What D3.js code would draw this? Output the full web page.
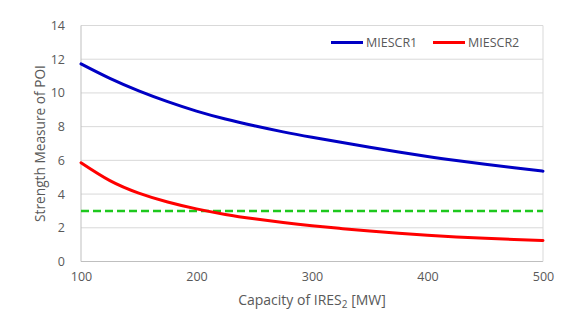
<!DOCTYPE html>
<html><head><meta charset="utf-8">
<script src="https://cdn.jsdelivr.net/npm/d3@7"></script>
<style>
html,body{margin:0;padding:0;background:#fff;}
text{font-family:"Open Sans","Liberation Sans",sans-serif;fill:#595959;}
</style></head>
<body><svg id="chart" width="584" height="328"></svg>
<script>
const capacity = [100,125,150,175,200,225,250,275,300,325,350,375,400,425,450,475,500];
const miescr1 = [11.72,10.86,10.12,9.48,8.92,8.45,8.05,7.69,7.37,7.07,6.78,6.50,6.23,5.99,5.77,5.56,5.36];
const miescr2 = [5.86,4.80,4.06,3.53,3.12,2.79,2.53,2.31,2.12,1.96,1.81,1.68,1.56,1.46,1.38,1.31,1.25];
const threshold = [3];
const xTicks = [100,200,300,400,500];
const yTicks = [0,2,4,6,8,10,12,14];
const seriesNames = ["MIESCR1","MIESCR2"];
const seriesColors = ["#0000c4","#ff0000"];

const svg = d3.select("#chart");
const W = 584, H = 328;
const m = {left:81, right:41, top:25.5, bottom:66.5};
const x = d3.scaleLinear().domain([100,500]).range([m.left, W-m.right]);
const y = d3.scaleLinear().domain([0,14]).range([H-m.bottom, m.top]);

// gridlines
svg.append("g").selectAll("line").data(yTicks).join("line")
  .attr("x1", x(100)).attr("x2", x(500))
  .attr("y1", d=>y(d)).attr("y2", d=>y(d))
  .attr("stroke", d=> d===0 ? "#bfbfbf" : "#d9d9d9").attr("stroke-width",1);
// plot border left/right
svg.append("line").attr("x1",x(100)).attr("x2",x(100)).attr("y1",y(0)).attr("y2",y(14)).attr("stroke","#bfbfbf");
svg.append("line").attr("x1",x(500)).attr("x2",x(500)).attr("y1",y(0)).attr("y2",y(14)).attr("stroke","#d9d9d9");

// axes labels via d3 axes
const yAxis = svg.append("g").attr("transform",`translate(${x(100)},0)`)
  .call(d3.axisLeft(y).tickValues(yTicks).tickSize(0).tickPadding(16));
yAxis.select(".domain").remove();
yAxis.selectAll("text").style("font-size","12.5px").attr("fill","#595959").attr("font-family",null);

const xAxis = svg.append("g").attr("transform",`translate(0,${y(0)})`)
  .call(d3.axisBottom(x).tickValues(xTicks).tickSize(0).tickPadding(11));
xAxis.select(".domain").remove();
xAxis.selectAll("text").style("font-size","12.5px").attr("fill","#595959").attr("font-family",null);

// axis titles
const xt = svg.append("text").attr("x",(x(100)+x(500))/2).attr("y",305)
  .attr("text-anchor","middle").style("font-size","14px");
xt.append("tspan").text("Capacity of IRES");
xt.append("tspan").text("2").attr("dy",3).style("font-size","10px");
xt.append("tspan").text(" [MW]").attr("dy",-3);

svg.append("text").attr("transform",`translate(45,${(y(0)+y(14))/2}) rotate(-90)`)
  .attr("text-anchor","middle").style("font-size","13.7px").text("Strength Measure of POI");

// threshold
svg.append("g").selectAll("line").data(threshold).join("line")
  .attr("x1",x(100)).attr("x2",x(500)).attr("y1",d=>y(d)).attr("y2",d=>y(d))
  .attr("stroke","#1ec81e").attr("stroke-width",2.5).attr("stroke-dasharray","8,4");

// series
const line = d3.line().x((d,i)=>x(capacity[i])).y(d=>y(d)).curve(d3.curveNatural);
[miescr1, miescr2].forEach((s,k)=>{
  svg.append("path").datum(s).attr("d",line).attr("fill","none")
    .attr("stroke",seriesColors[k]).attr("stroke-width",3).attr("stroke-linecap","round");
});

// legend
const legX = [331, 433];
seriesNames.forEach((n,k)=>{
  svg.append("line").attr("x1",legX[k]).attr("x2",legX[k]+32).attr("y1",42.5).attr("y2",42.5)
    .attr("stroke",seriesColors[k]).attr("stroke-width",3);
  svg.append("text").attr("x",legX[k]+35).attr("y",47).style("font-size","12.5px").text(n);
});
</script></body></html>
